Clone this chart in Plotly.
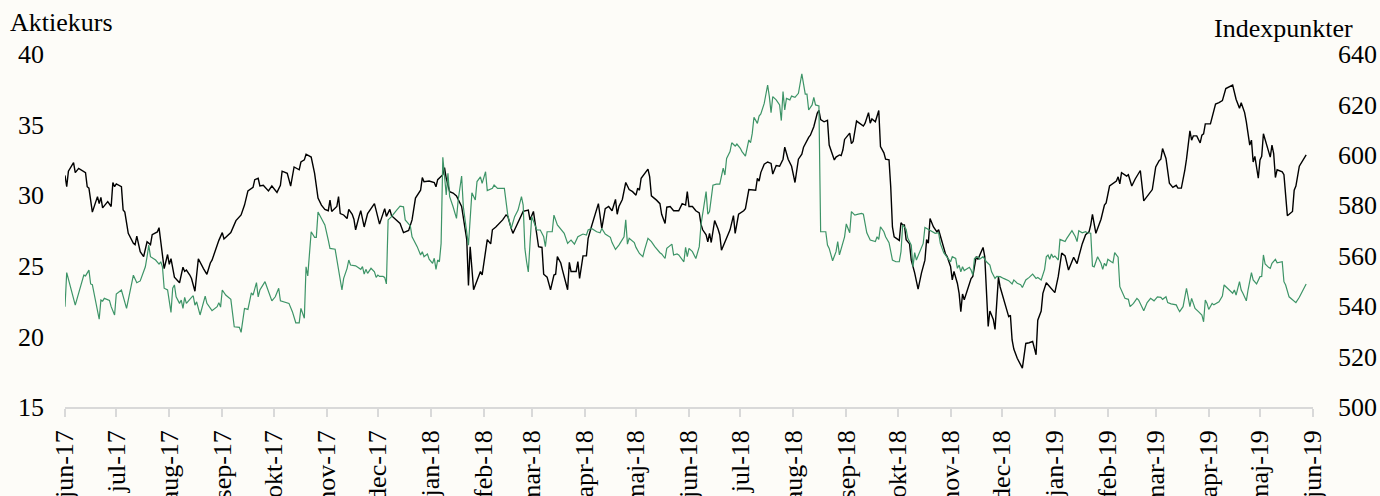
import plotly.graph_objects as go

# ---------------- data ----------------
aktie_dates = [
"2017-06-01","2017-06-02","2017-06-03","2017-06-06","2017-06-07","2017-06-09","2017-06-13","2017-06-14","2017-06-15","2017-06-17",
"2017-06-20","2017-06-21","2017-06-22","2017-06-23","2017-06-26","2017-06-28","2017-06-29","2017-06-30","2017-07-01","2017-07-04",
"2017-07-05","2017-07-06","2017-07-08","2017-07-11","2017-07-12","2017-07-13","2017-07-15","2017-07-17","2017-07-19","2017-07-21",
"2017-07-22","2017-07-25","2017-07-26","2017-07-29","2017-07-31","2017-08-01","2017-08-02","2017-08-04","2017-08-07","2017-08-09",
"2017-08-10","2017-08-11","2017-08-13","2017-08-14","2017-08-16","2017-08-18","2017-08-21","2017-08-23","2017-08-25","2017-08-26",
"2017-08-30","2017-09-01","2017-09-02","2017-09-06","2017-09-09","2017-09-12","2017-09-14","2017-09-16","2017-09-19","2017-09-20",
"2017-09-22","2017-09-23","2017-09-25","2017-09-28","2017-09-30","2017-10-03","2017-10-05","2017-10-06","2017-10-09","2017-10-11",
"2017-10-13","2017-10-16","2017-10-17","2017-10-19","2017-10-20","2017-10-23","2017-10-25","2017-10-27","2017-10-29","2017-10-31",
"2017-11-02","2017-11-03","2017-11-04","2017-11-07","2017-11-08","2017-11-09","2017-11-11","2017-11-13","2017-11-14","2017-11-16",
"2017-11-17","2017-11-18","2017-11-20","2017-11-21","2017-11-23","2017-11-25","2017-11-29","2017-12-02","2017-12-05","2017-12-06",
"2017-12-08","2017-12-09","2017-12-14","2017-12-16","2017-12-19","2017-12-21","2017-12-23","2017-12-26","2017-12-27","2017-12-28",
"2017-12-31","2018-01-03","2018-01-04","2018-01-05","2018-01-08","2018-01-09","2018-01-10","2018-01-12","2018-01-14","2018-01-16",
"2018-01-19","2018-01-20","2018-01-22","2018-01-23","2018-01-24","2018-01-26","2018-01-30","2018-01-31","2018-02-03","2018-02-05",
"2018-02-06","2018-02-08","2018-02-12","2018-02-14","2018-02-15","2018-02-17","2018-02-18","2018-02-19","2018-02-23","2018-02-24",
"2018-02-27","2018-02-28","2018-03-02","2018-03-05","2018-03-07","2018-03-08","2018-03-10","2018-03-12","2018-03-14","2018-03-15",
"2018-03-16","2018-03-18","2018-03-19","2018-03-22","2018-03-23","2018-03-24","2018-03-27","2018-03-28","2018-03-29","2018-03-31",
"2018-04-02","2018-04-03","2018-04-05","2018-04-07","2018-04-09","2018-04-11","2018-04-13","2018-04-15","2018-04-17","2018-04-19",
"2018-04-20","2018-04-21","2018-04-23","2018-04-25","2018-04-27","2018-04-29","2018-05-01","2018-05-02","2018-05-03","2018-05-04",
"2018-05-06","2018-05-08","2018-05-09","2018-05-10","2018-05-13","2018-05-15","2018-05-16","2018-05-18","2018-05-19","2018-05-21",
"2018-05-23","2018-05-26","2018-05-28","2018-05-30","2018-05-31","2018-06-01","2018-06-03","2018-06-05","2018-06-07","2018-06-08",
"2018-06-09","2018-06-11","2018-06-12","2018-06-13","2018-06-14","2018-06-16","2018-06-18","2018-06-19","2018-06-20","2018-06-23",
"2018-06-25","2018-06-27","2018-06-28","2018-06-30","2018-07-03","2018-07-04","2018-07-06","2018-07-10","2018-07-11","2018-07-12",
"2018-07-13","2018-07-15","2018-07-17","2018-07-19","2018-07-20","2018-07-22","2018-07-24","2018-07-26","2018-07-27","2018-07-29",
"2018-07-31","2018-08-02","2018-08-04","2018-08-06","2018-08-07","2018-08-10","2018-08-11","2018-08-13","2018-08-15","2018-08-16",
"2018-08-17","2018-08-19","2018-08-21","2018-08-22","2018-08-23","2018-08-25","2018-08-26","2018-08-28","2018-08-29","2018-08-30",
"2018-08-31","2018-09-02","2018-09-03","2018-09-04","2018-09-05","2018-09-07","2018-09-09","2018-09-11","2018-09-12","2018-09-14",
"2018-09-15","2018-09-16","2018-09-18","2018-09-20","2018-09-21","2018-09-23","2018-09-24","2018-09-26","2018-09-27","2018-09-28",
"2018-09-29","2018-10-01","2018-10-02","2018-10-03","2018-10-04","2018-10-05","2018-10-06","2018-10-08","2018-10-09","2018-10-11",
"2018-10-12","2018-10-13","2018-10-15","2018-10-17","2018-10-18","2018-10-19","2018-10-20","2018-10-22","2018-10-24","2018-10-25",
"2018-10-27","2018-10-29","2018-10-30","2018-11-01","2018-11-02","2018-11-03","2018-11-05","2018-11-06","2018-11-07","2018-11-08",
"2018-11-09","2018-11-11","2018-11-13","2018-11-14","2018-11-16","2018-11-17","2018-11-20","2018-11-21","2018-11-22","2018-11-23",
"2018-11-24","2018-11-26","2018-11-27","2018-11-29","2018-11-30","2018-12-02","2018-12-04","2018-12-05","2018-12-06","2018-12-07",
"2018-12-08","2018-12-10","2018-12-13","2018-12-15","2018-12-17","2018-12-19","2018-12-21","2018-12-22","2018-12-24","2018-12-25",
"2018-12-27","2018-12-29","2019-01-01","2019-01-03","2019-01-04","2019-01-05","2019-01-07","2019-01-09","2019-01-12","2019-01-14",
"2019-01-15","2019-01-17","2019-01-19","2019-01-21","2019-01-22","2019-01-23","2019-01-25","2019-01-26","2019-01-28","2019-01-30",
"2019-01-31","2019-02-02","2019-02-04","2019-02-06","2019-02-07","2019-02-08","2019-02-09","2019-02-11","2019-02-12","2019-02-13",
"2019-02-15","2019-02-17","2019-02-20","2019-02-22","2019-02-24","2019-02-26","2019-02-27","2019-03-01","2019-03-03","2019-03-04",
"2019-03-05","2019-03-07","2019-03-09","2019-03-11","2019-03-12","2019-03-13","2019-03-14","2019-03-16","2019-03-18","2019-03-19",
"2019-03-21","2019-03-22","2019-03-23","2019-03-25","2019-03-27","2019-03-28","2019-03-29","2019-03-30","2019-04-02","2019-04-03",
"2019-04-05","2019-04-07","2019-04-09","2019-04-11","2019-04-13","2019-04-15","2019-04-17","2019-04-18","2019-04-19","2019-04-20",
"2019-04-22","2019-04-23","2019-04-25","2019-04-26","2019-04-27","2019-04-28","2019-04-29","2019-04-30","2019-05-01","2019-05-02",
"2019-05-03","2019-05-05","2019-05-07","2019-05-08","2019-05-09","2019-05-10","2019-05-11","2019-05-14","2019-05-15","2019-05-17",
"2019-05-18","2019-05-20","2019-05-21","2019-05-22","2019-05-24","2019-05-26","2019-05-28",
]
aktie_values = [
31.4,30.6,31.7,32.3,31.6,31.9,31.6,30.6,30.5,28.8,
29.9,29.4,29.85,29.1,29.55,29.2,30.9,30.6,30.8,30.6,
28.95,28.8,27.3,26.6,26.5,27.1,26.0,25.65,26.7,26.5,
27.2,27.4,27.7,24.8,25.8,25.1,25.5,24.2,23.8,24.9,
24.6,24.7,24.35,24.1,23.2,25.5,24.8,24.4,25.2,25.4,
26.8,27.35,26.9,27.35,28.2,28.6,29.3,30.3,30.55,31.1,
31.2,30.65,30.7,30.3,30.65,30.2,30.7,31.7,31.55,30.65,
32.0,31.8,32.35,32.5,32.9,32.7,31.55,29.8,29.3,29.0,
28.9,29.65,28.85,29.2,29.9,28.7,28.6,28.35,29.0,28.65,
28.3,27.55,28.5,28.9,27.75,28.7,29.4,27.95,29.05,28.5,
29.0,28.55,28.0,27.35,27.5,28.25,29.8,30.35,31.25,30.95,
31.0,30.9,30.6,31.1,31.45,31.95,31.2,30.25,30.15,29.95,
29.2,28.35,26.85,23.6,26.35,23.3,24.6,24.35,26.85,26.55,
27.55,27.75,28.25,28.6,28.5,27.65,27.3,27.55,28.5,28.85,
28.95,28.25,28.85,26.35,26.3,24.4,24.2,23.3,24.35,24.4,
25.65,25.2,24.7,23.3,25.25,24.6,24.6,25.3,24.1,25.7,
25.7,26.95,27.8,28.65,29.4,27.65,29.05,29.2,28.9,29.7,
28.65,29.2,29.7,30.9,30.4,30.25,30.0,30.5,30.35,31.2,
31.55,31.85,31.3,29.95,29.65,29.4,28.65,28.0,29.15,29.2,
28.9,28.9,29.4,29.3,30.25,29.2,29.2,28.9,28.75,27.95,
27.55,27.2,26.7,27.3,26.65,28.2,27.6,27.2,26.1,26.9,
27.55,28.55,27.3,28.65,28.9,29.05,30.4,30.35,31.2,31.0,
31.6,32.2,32.35,32.25,31.5,32.1,32.05,32.55,33.4,32.55,
32.05,30.9,32.55,32.9,33.4,34.1,34.25,34.85,35.8,36.0,
35.35,35.2,35.3,33.55,33.2,32.5,32.7,32.85,32.8,33.2,
33.95,34.2,34.4,33.65,33.8,35.25,35.05,34.9,35.1,35.85,
35.1,35.4,35.2,36.0,33.45,33.0,32.55,32.5,30.6,27.75,
27.05,26.85,26.8,28.05,27.9,27.9,26.85,26.55,25.4,24.5,
23.95,23.35,24.5,25.4,26.85,26.6,28.35,27.75,27.4,27.55,
26.7,25.85,25.65,24.95,24.0,24.6,23.75,23.05,21.75,23.0,
22.6,23.3,24.1,24.25,25.65,25.45,26.3,25.65,23.5,20.7,
21.8,21.2,20.5,24.2,23.5,22.7,21.8,21.4,21.5,19.75,
19.1,18.45,17.75,19.5,19.55,19.65,18.7,21.15,21.8,23.05,
23.8,23.5,23.1,24.25,25.2,25.9,25.7,24.7,25.6,25.15,
25.65,26.55,27.2,27.4,27.9,28.65,27.3,27.65,28.3,29.3,
29.45,30.65,30.8,31.0,31.3,30.8,31.6,31.45,31.35,31.45,
30.65,31.15,31.75,29.6,29.95,30.3,30.4,32.0,32.45,32.55,
33.3,32.6,30.85,30.55,30.65,30.7,30.5,30.5,31.75,32.55,
34.55,33.9,34.2,34.2,33.7,34.25,34.35,35.05,35.05,35.5,
36.45,36.55,36.7,37.55,37.65,37.8,36.8,36.45,36.15,36.55,
35.85,35.2,33.55,33.9,32.35,32.75,31.8,31.2,32.5,32.75,
34.35,33.55,32.7,33.55,32.95,31.25,31.8,31.65,31.45,28.55,
28.65,28.85,30.35,30.65,32.05,32.5,32.85,
]

index_dates = [
"2017-06-01","2017-06-02","2017-06-07","2017-06-12","2017-06-13","2017-06-15","2017-06-16","2017-06-17","2017-06-21","2017-06-22",
"2017-06-23","2017-06-24","2017-06-27","2017-06-28","2017-06-30","2017-07-01","2017-07-04","2017-07-07","2017-07-11","2017-07-13",
"2017-07-15","2017-07-18","2017-07-19","2017-07-20","2017-07-21","2017-07-24","2017-07-26","2017-07-27","2017-07-28","2017-07-29",
"2017-07-31","2017-08-02","2017-08-03","2017-08-04","2017-08-05","2017-08-07","2017-08-08","2017-08-09","2017-08-10","2017-08-11",
"2017-08-14","2017-08-15","2017-08-16","2017-08-17","2017-08-19","2017-08-22","2017-08-23","2017-08-26","2017-08-29","2017-08-30",
"2017-08-31","2017-09-01","2017-09-03","2017-09-06","2017-09-08","2017-09-11","2017-09-12","2017-09-14","2017-09-16","2017-09-18",
"2017-09-19","2017-09-21","2017-09-22","2017-09-23","2017-09-26","2017-09-30","2017-10-02","2017-10-04","2017-10-05","2017-10-10",
"2017-10-12","2017-10-14","2017-10-16","2017-10-17","2017-10-19","2017-10-20","2017-10-21","2017-10-23","2017-10-25","2017-10-26",
"2017-10-27","2017-10-31","2017-11-02","2017-11-03","2017-11-06","2017-11-08","2017-11-09","2017-11-10","2017-11-11","2017-11-13",
"2017-11-14","2017-11-15","2017-11-18","2017-11-21","2017-11-22","2017-11-23","2017-11-24","2017-11-25","2017-11-27","2017-11-29",
"2017-11-30","2017-12-01","2017-12-02","2017-12-04","2017-12-05","2017-12-06","2017-12-07","2017-12-09","2017-12-12","2017-12-14",
"2017-12-16","2017-12-17","2017-12-20","2017-12-21","2017-12-24","2017-12-26","2017-12-27","2017-12-28","2017-12-30","2017-12-31",
"2018-01-02","2018-01-03","2018-01-04","2018-01-05","2018-01-06","2018-01-07","2018-01-08","2018-01-10","2018-01-11","2018-01-12",
"2018-01-14","2018-01-16","2018-01-17","2018-01-19","2018-01-20","2018-01-22","2018-01-23","2018-01-25","2018-01-27","2018-01-28",
"2018-01-30","2018-01-31","2018-02-01","2018-02-02","2018-02-03","2018-02-06","2018-02-07","2018-02-09","2018-02-13","2018-02-14",
"2018-02-15","2018-02-17","2018-02-19","2018-02-21","2018-02-23","2018-02-24","2018-02-25","2018-02-26","2018-02-27","2018-02-28",
"2018-03-01","2018-03-04","2018-03-06","2018-03-08","2018-03-09","2018-03-10","2018-03-13","2018-03-14","2018-03-16","2018-03-20",
"2018-03-22","2018-03-23","2018-03-24","2018-03-26","2018-03-28","2018-03-31","2018-04-02","2018-04-03","2018-04-05","2018-04-08",
"2018-04-10","2018-04-11","2018-04-13","2018-04-16","2018-04-17","2018-04-19","2018-04-21","2018-04-24","2018-04-25","2018-04-26",
"2018-04-27","2018-04-30","2018-05-01","2018-05-03","2018-05-05","2018-05-06","2018-05-08","2018-05-10","2018-05-12","2018-05-15",
"2018-05-16","2018-05-18","2018-05-19","2018-05-22","2018-05-23","2018-05-25","2018-05-26","2018-05-29","2018-05-30","2018-05-31",
"2018-06-01","2018-06-03","2018-06-05","2018-06-06","2018-06-07","2018-06-08","2018-06-10","2018-06-11","2018-06-12","2018-06-13",
"2018-06-15","2018-06-17","2018-06-19","2018-06-21","2018-06-22","2018-06-23","2018-06-25","2018-06-26","2018-06-28","2018-06-29",
"2018-07-01","2018-07-02","2018-07-04","2018-07-06","2018-07-07","2018-07-08","2018-07-09","2018-07-11","2018-07-12","2018-07-13",
"2018-07-15","2018-07-16","2018-07-17","2018-07-18","2018-07-19","2018-07-20","2018-07-22","2018-07-24","2018-07-25","2018-07-26",
"2018-07-27","2018-07-28","2018-07-30","2018-07-31","2018-08-02","2018-08-04","2018-08-05","2018-08-06","2018-08-08","2018-08-09",
"2018-08-10","2018-08-12","2018-08-13","2018-08-14","2018-08-16","2018-08-17","2018-08-20","2018-08-21","2018-08-22","2018-08-24",
"2018-08-26","2018-08-27","2018-08-28","2018-08-30","2018-08-31","2018-09-01","2018-09-02","2018-09-03","2018-09-04","2018-09-06",
"2018-09-08","2018-09-10","2018-09-11","2018-09-13","2018-09-15","2018-09-17","2018-09-18","2018-09-19","2018-09-20","2018-09-21",
"2018-09-23","2018-09-24","2018-09-26","2018-09-28","2018-09-30","2018-10-02","2018-10-03","2018-10-04","2018-10-06","2018-10-07",
"2018-10-09","2018-10-10","2018-10-11","2018-10-12","2018-10-14","2018-10-16","2018-10-17","2018-10-19","2018-10-21","2018-10-23",
"2018-10-25","2018-10-26","2018-10-28","2018-10-29","2018-10-30","2018-11-01","2018-11-02","2018-11-04","2018-11-05","2018-11-06",
"2018-11-07","2018-11-08","2018-11-09","2018-11-11","2018-11-12","2018-11-13","2018-11-14","2018-11-15","2018-11-17","2018-11-18",
"2018-11-20","2018-11-22","2018-11-24","2018-11-25","2018-11-27","2018-11-28","2018-11-30","2018-12-02","2018-12-04","2018-12-05",
"2018-12-07","2018-12-08","2018-12-10","2018-12-12","2018-12-13","2018-12-15","2018-12-17","2018-12-19","2018-12-21","2018-12-22",
"2018-12-24","2018-12-26","2018-12-27","2018-12-28","2018-12-29","2018-12-30","2018-12-31","2019-01-01","2019-01-03","2019-01-04",
"2019-01-05","2019-01-07","2019-01-08","2019-01-11","2019-01-13","2019-01-14","2019-01-15","2019-01-17","2019-01-19","2019-01-20",
"2019-01-22","2019-01-23","2019-01-24","2019-01-26","2019-01-27","2019-01-28","2019-01-29","2019-01-30","2019-01-31","2019-02-01",
"2019-02-03","2019-02-04","2019-02-05","2019-02-07","2019-02-08","2019-02-10","2019-02-11","2019-02-13","2019-02-14","2019-02-16",
"2019-02-18","2019-02-19","2019-02-21","2019-02-22","2019-02-24","2019-02-26","2019-02-28","2019-03-02","2019-03-04","2019-03-05",
"2019-03-07","2019-03-08","2019-03-10","2019-03-13","2019-03-14","2019-03-15","2019-03-17","2019-03-19","2019-03-21","2019-03-22",
"2019-03-23","2019-03-24","2019-03-26","2019-03-28","2019-03-29","2019-03-30","2019-03-31","2019-04-01","2019-04-03","2019-04-04",
"2019-04-07","2019-04-09","2019-04-10","2019-04-12","2019-04-14","2019-04-15","2019-04-16","2019-04-17","2019-04-19","2019-04-20",
"2019-04-21","2019-04-23","2019-04-24","2019-04-26","2019-04-27","2019-04-29","2019-05-01","2019-05-02","2019-05-03","2019-05-04",
"2019-05-06","2019-05-07","2019-05-08","2019-05-10","2019-05-11","2019-05-14","2019-05-15","2019-05-16","2019-05-18","2019-05-20",
"2019-05-22","2019-05-24","2019-05-26","2019-05-28",
]
index_values = [
539.8,553.3,540.4,552.3,552.0,554.3,548.8,548.5,534.8,542.4,
542.0,543.1,542.3,539.8,536.5,544.8,546.4,539.1,552.3,549.3,
550.0,555.6,559.6,564.2,559.6,558.3,556.7,557.6,555.6,547.1,
546.4,537.5,547.1,548.4,543.7,541.1,542.4,539.1,543.5,541.1,
543.5,544.1,540.4,541.7,536.5,544.0,541.1,538.2,539.8,541.4,
539.6,546.4,544.4,542.7,531.8,531.6,529.6,539.1,538.7,545.3,
544.4,549.3,543.7,546.4,549.7,542.1,543.7,547.1,542.1,541.1,
537.8,533.4,533.4,539.1,535.2,555.6,552.0,569.5,567.3,567.3,
577.3,572.2,566.2,562.9,562.6,554.3,551.7,546.4,551.0,555.0,
558.3,556.3,556.0,554.6,555.7,552.7,554.6,553.0,555.0,553.6,
551.4,552.3,551.8,551.8,551.4,548.8,574.2,575.5,578.1,579.7,
579.4,574.2,571.8,567.5,563.6,560.3,561.6,559.6,560.7,558.6,
557.0,559.0,554.6,558.3,557.6,564.9,599.0,584.1,592.7,583.4,
579.4,574.8,582.1,591.6,579.4,570.2,564.2,585.0,582.1,589.4,
591.3,588.7,590.6,593.3,585.8,586.7,588.0,586.7,586.7,581.4,
576.1,570.8,575.5,578.1,583.4,580.1,562.9,557.6,553.6,564.9,
575.5,570.2,570.2,567.5,563.6,569.5,569.5,576.1,572.2,568.9,
564.9,565.6,566.2,564.6,567.5,568.6,568.2,570.2,570.8,569.5,
569.1,570.8,568.6,567.3,565.2,562.5,564.2,567.5,574.2,564.6,
566.9,565.2,563.3,560.9,559.6,562.3,566.9,565.6,563.6,561.2,
560.7,558.9,562.9,564.6,560.3,560.7,560.3,557.6,563.3,559.6,
562.9,561.6,558.9,561.2,563.6,572.2,580.8,585.4,576.5,577.5,
588.0,588.4,588.4,594.7,592.0,598.6,601.3,604.8,603.5,604.3,
602.6,601.3,599.5,605.9,604.8,608.5,614.9,612.5,615.4,616.2,
620.4,623.7,627.7,623.1,616.7,623.1,621.8,619.8,613.6,625.1,
617.8,622.4,621.8,623.3,622.8,624.4,628.1,632.1,624.1,624.1,
617.8,619.8,622.8,619.8,619.4,569.5,569.5,564.2,562.9,558.0,
561.6,565.6,560.3,565.6,567.5,572.6,570.5,569.1,577.5,576.1,
576.5,576.8,576.5,569.1,566.2,565.6,565.6,567.5,566.5,571.5,
569.5,567.5,565.2,558.3,557.6,557.6,561.6,572.2,570.5,566.9,
564.2,555.6,561.2,558.3,561.6,564.9,571.2,570.5,569.9,568.9,
569.1,564.9,561.2,560.3,559.6,557.6,559.6,558.9,555.0,556.3,
553.6,555.6,554.1,555.0,555.4,554.3,552.3,558.9,559.6,558.6,
559.6,557.6,556.3,553.6,551.0,551.8,551.7,551.0,550.4,550.1,
548.8,550.4,549.1,548.5,547.4,550.4,551.4,552.7,551.0,551.4,
550.4,554.6,559.6,560.3,558.6,560.7,559.4,559.9,558.3,566.5,
566.2,565.6,566.9,569.9,567.5,565.6,569.9,569.1,569.5,569.1,
568.9,555.9,555.6,559.6,558.3,557.0,554.6,557.0,555.9,558.6,
557.6,557.2,561.2,559.4,547.7,544.4,543.1,542.7,539.8,541.1,
543.1,542.4,539.6,538.2,541.4,543.1,542.1,543.7,543.5,542.7,
543.7,541.4,540.9,540.5,539.1,537.8,539.8,547.1,539.8,543.1,
541.1,539.1,537.8,536.5,533.8,542.4,541.1,538.7,541.1,540.5,
541.7,544.0,548.4,547.1,545.7,545.1,546.4,544.4,549.7,546.4,
545.1,542.1,546.4,553.3,550.4,548.8,551.7,551.8,560.3,556.7,
555.4,555.0,557.0,558.6,557.2,557.6,549.7,548.4,543.7,542.7,
541.4,543.5,546.0,548.8,
]

tick_dates = [
"2017-06-01","2017-07-01","2017-08-01","2017-09-01","2017-10-01","2017-11-01","2017-12-01",
"2018-01-01","2018-02-01","2018-03-01","2018-04-01","2018-05-01","2018-06-01","2018-07-01",
"2018-08-01","2018-09-01","2018-10-01","2018-11-01","2018-12-01","2019-01-01","2019-02-01",
"2019-03-01","2019-04-01","2019-05-01","2019-06-01",
]
tick_labels = [
"jun-17","jul-17","aug-17","sep-17","okt-17","nov-17","dec-17",
"jan-18","feb-18","mar-18","apr-18","maj-18","jun-18","jul-18",
"aug-18","sep-18","okt-18","nov-18","dec-18","jan-19","feb-19",
"mar-19","apr-19","maj-19","jun-19",
]

# ---------------- figure ----------------
BG = "#fdfcf8"
FONT = "Liberation Serif"
GREEN = "#3d9467"
AXIS_GREY = "#d9d9d9"

fig = go.Figure()
fig.add_trace(go.Scatter(x=index_dates, y=index_values, mode="lines",
                         line=dict(color=GREEN, width=1.2), yaxis="y2",
                         name="Indexpunkter"))
fig.add_trace(go.Scatter(x=aktie_dates, y=aktie_values, mode="lines",
                         line=dict(color="#000000", width=1.4), yaxis="y",
                         name="Aktiekurs"))

fig.update_layout(
    width=1380, height=496,
    margin=dict(l=65, r=67, t=54, b=89, pad=0, autoexpand=False),
    paper_bgcolor=BG, plot_bgcolor=BG,
    showlegend=False,
    font=dict(family=FONT, size=26, color="#000000"),
    xaxis=dict(type="date", range=["2017-06-01", "2019-06-01"],
               tickmode="array", tickvals=tick_dates, ticktext=tick_labels,
               tickangle=-90, ticks="outside", ticklen=8, tickwidth=1.5,
               tickcolor=AXIS_GREY, showline=True, linecolor=AXIS_GREY,
               linewidth=1.5, showgrid=False, zeroline=False,
               ticklabelstandoff=3, automargin=False,
               tickfont=dict(family=FONT, size=26, color="#000000")),
    yaxis=dict(range=[15, 40], tick0=15, dtick=5, showgrid=False,
               zeroline=False, showline=False, ticks="",
               ticklabelstandoff=20, automargin=False,
               tickfont=dict(family=FONT, size=26, color="#000000")),
    yaxis2=dict(range=[500, 640], tick0=500, dtick=20, overlaying="y",
                side="right", showgrid=False, zeroline=False, showline=False,
                ticks="", ticklabelstandoff=24, automargin=False,
                tickfont=dict(family=FONT, size=26, color="#000000")),
    annotations=[
        dict(text="Aktiekurs", xref="paper", yref="paper",
             x=(8 - 65) / 1248, y=(407 - 23) / 353, xanchor="left",
             yanchor="middle", showarrow=False,
             font=dict(family=FONT, size=26, color="#000000")),
        dict(text="Indexpunkter", xref="paper", yref="paper",
             x=(1355 - 65) / 1248, y=(407 - 29) / 353, xanchor="right",
             yanchor="middle", showarrow=False,
             font=dict(family=FONT, size=26, color="#000000")),
    ],
)

fig.write_html(
    "out.html",
    config={"displayModeBar": False},
    post_script="document.body.style.margin='0';document.body.style.background='%s';document.body.style.overflow='hidden';" % BG,
)
